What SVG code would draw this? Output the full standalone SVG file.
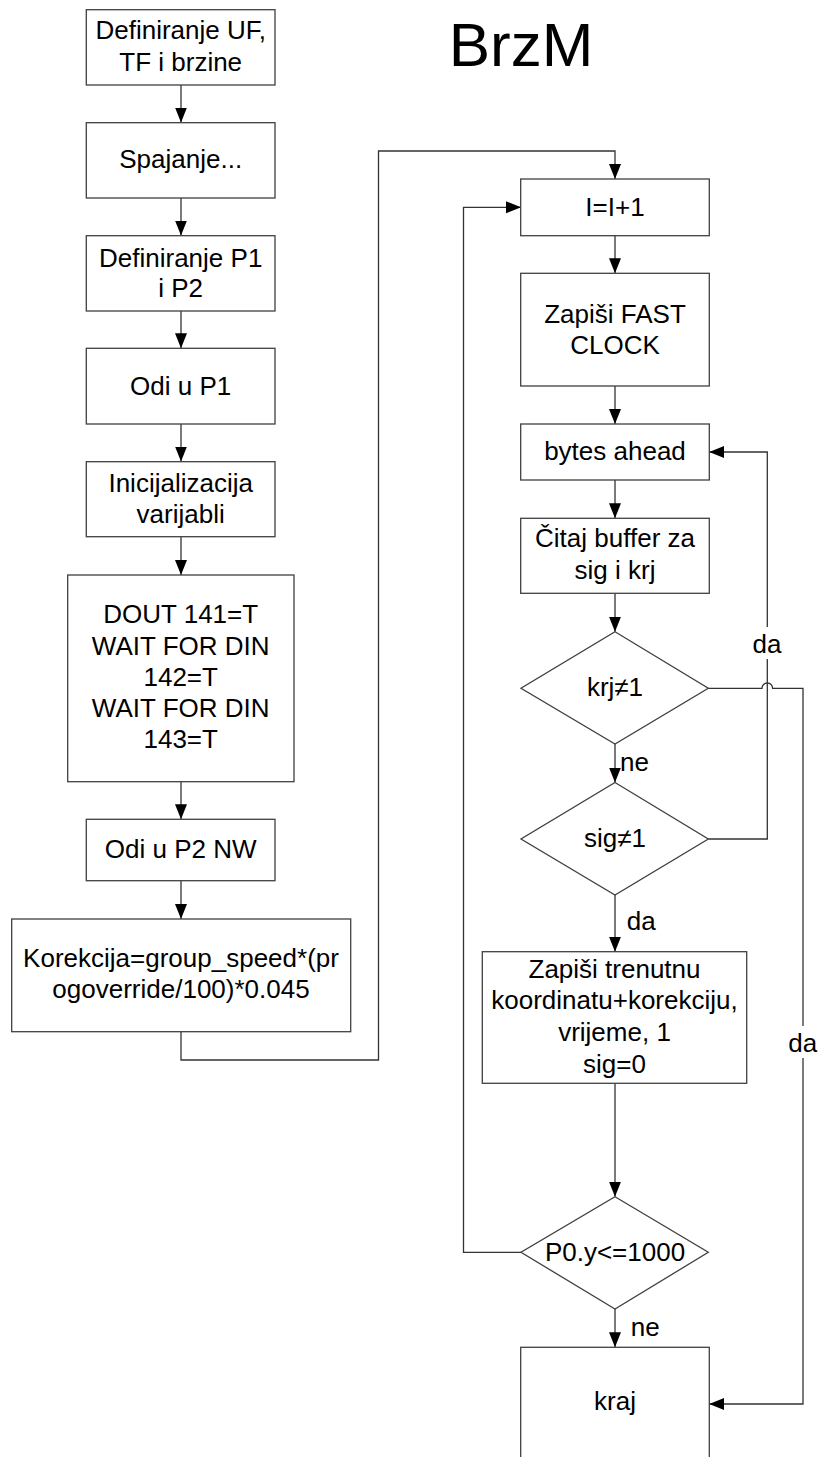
<svg xmlns="http://www.w3.org/2000/svg" width="819" height="1457" viewBox="0 0 819 1457">
<style>
.box{fill:#fff;stroke:#404040;stroke-width:1.3}
.t{font-family:"Liberation Sans",Arial,sans-serif;font-size:26px;fill:#000;text-anchor:middle}
.lbl{font-family:"Liberation Sans",Arial,sans-serif;font-size:26px;fill:#000}
.c{fill:none;stroke:#333;stroke-width:1.3}
.ca{fill:none;stroke:#333;stroke-width:1.3;marker-end:url(#ah)}
</style>
<defs>
<marker id="ah" markerUnits="userSpaceOnUse" markerWidth="16" markerHeight="13" refX="15" refY="6" orient="auto">
<path d="M0,0 L15,6 L0,12 Z" fill="#000"/>
</marker>
</defs>
<rect width="819" height="1457" fill="#fff"/>
<text x="521" y="65.5" style="font-family:'Liberation Sans',Arial,sans-serif;font-size:62px;text-anchor:middle">BrzM</text>

<g id="connectors">
<path class="ca" d="M181,85 V122.5"/>
<path class="ca" d="M181,198 V235.5"/>
<path class="ca" d="M181,311 V348.3"/>
<path class="ca" d="M181,424 V461.5"/>
<path class="ca" d="M181,536.7 V575"/>
<path class="ca" d="M181,781.7 V819.3"/>
<path class="ca" d="M181,880.7 V919"/>
<path class="ca" d="M181,1031.7 V1060 H378.5 V151 H615 V179"/>
<path class="ca" d="M615,235.7 V273.3"/>
<path class="ca" d="M615,386 V424"/>
<path class="ca" d="M615,480 V518.3"/>
<path class="ca" d="M615,593.3 V631.7"/>
<path class="ca" d="M615,744 V782.5"/>
<path class="ca" d="M615,895 V951.7"/>
<path class="ca" d="M615,1083.3 V1196.7"/>
<path class="ca" d="M615,1309 V1347.3"/>
<path class="ca" d="M708.3,839 H767.3 V452 H709.3"/>
<path class="ca" d="M708.3,688.3 H762 A5.3,5.3 0 0 1 772.6,688.3 H803 V1404 H709.3"/>
<path class="ca" d="M521,1252.3 H463.5 V207.3 H521"/>
<rect x="751" y="627" width="33" height="32" fill="#fff"/>
<text class="lbl" x="752.5" y="653.3">da</text>
<rect x="787" y="1026" width="33" height="32" fill="#fff"/>
<text class="lbl" x="788.3" y="1052.3">da</text>
<text class="lbl" x="620" y="770.7">ne</text>
<text class="lbl" x="626.7" y="930">da</text>
<text class="lbl" x="630.7" y="1336">ne</text>
</g>

<g id="n1"><rect class="box" x="86.3" y="9.7" width="188.7" height="75.3"/>
<text class="t" x="180.7" y="38.5">Definiranje UF,</text><text class="t" x="180.7" y="70.8">TF i brzine</text></g>
<g id="n2"><rect class="box" x="86.3" y="122.7" width="188.7" height="75.3"/>
<text class="t" x="180.7" y="167.5">Spajanje...</text></g>
<g id="n3"><rect class="box" x="86.3" y="235.7" width="188.7" height="75.3"/>
<text class="t" x="180.7" y="266.7">Definiranje P1</text><text class="t" x="180.7" y="297">i P2</text></g>
<g id="n4"><rect class="box" x="86.3" y="348.3" width="188.7" height="75.7"/>
<text class="t" x="180.7" y="395">Odi u P1</text></g>
<g id="n5"><rect class="box" x="86.3" y="461.7" width="188.7" height="75"/>
<text class="t" x="180.7" y="491.7">Inicijalizacija</text><text class="t" x="180.7" y="523.3">varijabli</text></g>
<g id="n6"><rect class="box" x="67.7" y="575" width="226.3" height="206.7"/>
<text class="t" x="180.7" y="623.3">DOUT 141=T</text><text class="t" x="180.7" y="654.6">WAIT FOR DIN</text><text class="t" x="180.7" y="686">142=T</text><text class="t" x="180.7" y="717">WAIT FOR DIN</text><text class="t" x="180.7" y="748.3">143=T</text></g>
<g id="n7"><rect class="box" x="86.3" y="819.3" width="188.7" height="61.4"/>
<text class="t" x="180.7" y="857.7">Odi u P2 NW</text></g>
<g id="n8"><rect class="box" x="11.7" y="919" width="339" height="112.7"/>
<text class="t" x="181" y="966.7">Korekcija=group_speed*(pr</text><text class="t" x="181" y="998.3">ogoverride/100)*0.045</text></g>

<g id="n9"><rect class="box" x="520.7" y="179" width="188.6" height="56.7"/>
<text class="t" x="615" y="216">I=I+1</text></g>
<g id="n10"><rect class="box" x="520.7" y="273.3" width="188.6" height="112.7"/>
<text class="t" x="615" y="322.7">Zapiši FAST</text><text class="t" x="615" y="353.7">CLOCK</text></g>
<g id="n11"><rect class="box" x="520.7" y="424" width="188.6" height="56"/>
<text class="t" x="615" y="460">bytes ahead</text></g>
<g id="n12"><rect class="box" x="520.7" y="518.3" width="188.6" height="75"/>
<text class="t" x="615" y="546.7">Čitaj buffer za</text><text class="t" x="615" y="578.5">sig i krj</text></g>
<g id="n13"><polygon class="box" points="615,631.7 708.3,688.3 615,744 521,688.3"/>
<text class="t" x="615" y="695.5">krj≠1</text></g>
<g id="n14"><polygon class="box" points="615,782.5 708.3,839 615,895 521,839"/>
<text class="t" x="615" y="846.7">sig≠1</text></g>
<g id="n15"><rect class="box" x="482.3" y="951.7" width="264.4" height="131.6"/>
<text class="t" x="614.5" y="977.7">Zapiši trenutnu</text><text class="t" x="614.5" y="1009.3">koordinatu+korekciju,</text><text class="t" x="614.5" y="1041">vrijeme, 1</text><text class="t" x="614.5" y="1072.7">sig=0</text></g>
<g id="n16"><polygon class="box" points="615,1196.7 708.3,1252.3 615,1309 521,1252.3"/>
<text class="t" x="615" y="1260.5">P0.y&lt;=1000</text></g>
<g id="n17"><rect class="box" x="520.7" y="1347.3" width="188.6" height="140"/>
<text class="t" x="615" y="1410">kraj</text></g>
</svg>
